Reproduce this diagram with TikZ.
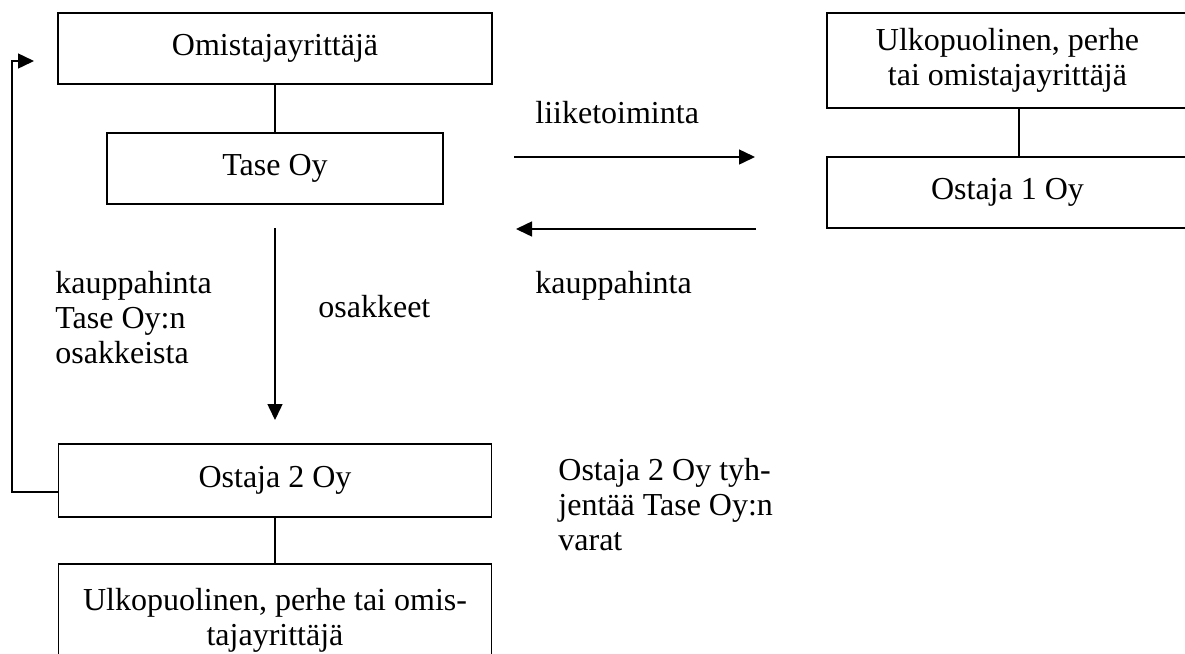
\documentclass[tikz,border=0pt]{standalone}
\usepackage{fontspec}
\setmainfont{Liberation Serif}
\usetikzlibrary{arrows.meta}
\tikzset{
  box/.style={draw, line width=0.75pt, rectangle, align=center, inner sep=0pt,
    font=\fontsize{16}{17.5}\selectfont},
  lbl/.style={inner sep=0pt, align=left, anchor=base west,
    font=\fontsize{16}{17.5}\selectfont},
  conn/.style={line width=0.75pt},
  arr/.style={line width=0.75pt, -{Triangle[length=8pt,width=7.5pt]}}
}
\begin{document}
\begin{tikzpicture}[x=0.5pt,y=-0.5pt]
\clip (0,0) rectangle (1185,654);
\fill[white] (0,0) rectangle (1185,654);
% boxes
\node[box, minimum width=217pt, minimum height=35.5pt] (own) at (275,48.5) {Omistajayrittäjä};
\node[box, minimum width=168pt, minimum height=35.5pt] (tase) at (275,168.5) {Tase Oy};
\node[box, minimum width=180.5pt, minimum height=47.5pt] (ulk1) at (1007.5,60.5) {Ulkopuolinen, perhe\\tai omistajayrittäjä};
\node[box, minimum width=180.5pt, minimum height=35.5pt] (ost1) at (1007.5,192.5) {Ostaja 1 Oy};
\node[box, minimum width=216.5pt, minimum height=36.5pt] (ost2) at (275,480.5) {Ostaja 2 Oy};
\node[box, minimum width=216.5pt, minimum height=56pt] (ulk2) at (275,620) {Ulkopuolinen, perhe tai omis-\\tajayrittäjä};
% connectors between boxes
\draw[conn] (own.south) -- (tase.north);
\coordinate (cx) at (1019,0);
\draw[conn] (ulk1.south -| cx) -- (ost1.north -| cx);
\draw[conn] (ost2.south) -- (ulk2.north);
% free arrows
\coordinate (a1s) at (514,157);
\coordinate (a1e) at (755,157);
\coordinate (a2s) at (756,229);
\coordinate (a2e) at (516,229);
\coordinate (a3s) at (275,228);
\coordinate (a3e) at (275,420);
\draw[arr] (a1s) -- (a1e);
\draw[arr] (a2s) -- (a2e);
\draw[arr] (a3s) -- (a3e);
% feedback arrow
\coordinate (fb) at (12,492);
\coordinate (fbend) at (34,61);
\draw[arr] (ost2.west |- fb) -- (fb) |- (fbend);
% labels (base anchor = baseline of last line)
\node[lbl] (l1) at (535,123) {liiketoiminta};
\node[lbl] (l2) at (535,293) {kauppahinta};
\node[lbl] (l3) at (55,363) {kauppahinta\\Tase Oy:n\\osakkeista};
\node[lbl] (l4) at (318,317) {osakkeet};
\node[lbl] (l5) at (558,550) {Ostaja 2 Oy tyh-\\jentää Tase Oy:n\\varat};
\end{tikzpicture}
\end{document}
